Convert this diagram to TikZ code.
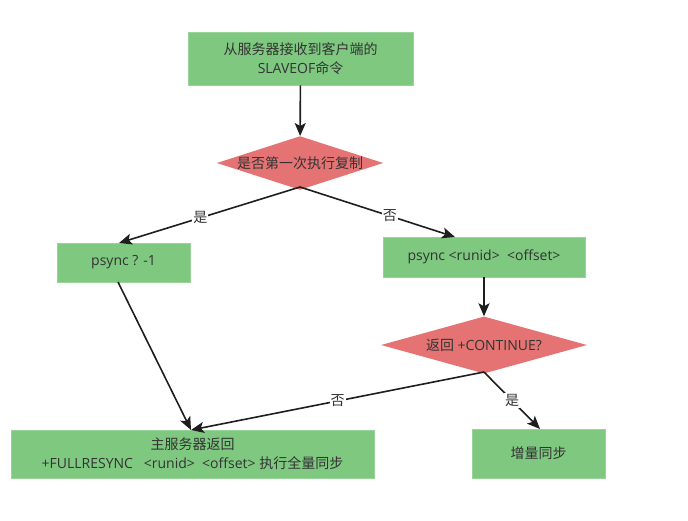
\documentclass[tikz,border=0pt]{standalone}
\usepackage{fontspec}
\setmainfont{Open Sans}
\newfontfamily\cjk{Noto Sans CJK SC}
\usetikzlibrary{shapes.geometric,arrows.meta}
\definecolor{gbox}{RGB}{126,200,128}
\definecolor{rdia}{RGB}{229,115,115}
\definecolor{txt}{RGB}{51,51,51}
\definecolor{ln}{RGB}{30,30,30}
\tikzset{
  gnode/.style={draw=gbox!80!white,fill=gbox,line width=0.6pt,inner sep=0pt,text=txt,font=\fontsize{14}{19}\selectfont,align=center},
  dnode/.style={diamond,fill=rdia,inner sep=0pt,text=txt,font=\fontsize{14}{19}\selectfont,aspect=3.1},
  arr/.style={draw=ln,line width=1.6pt,-{Stealth[length=13pt,width=11pt,inset=3pt]}},
  lbl/.style={fill=white,inner sep=1pt,text=txt,font=\fontsize{14}{19}\selectfont\cjk}
}
\begin{document}
\begin{tikzpicture}[x=1pt,y=-1pt]
\useasboundingbox (0,0) rectangle (688,520);
\node[gnode,minimum width=225pt,minimum height=53pt] (a) at (300.5,58.5) {{\cjk 从服务器接收到客户端的}\\SLAVEOF{\cjk 命令}};
\node[dnode,minimum width=158pt,minimum height=51pt] (d1) at (300,163) {\cjk 是否第一次执行复制};
\node[gnode,minimum width=133pt,minimum height=39pt] (p1) at (123.5,262.5) {psync ? -1};
\node[gnode,minimum width=202pt,minimum height=40pt] (p2) at (484,257) {psync <runid>\ \ <offset>};
\node[dnode,minimum width=206pt,minimum height=57pt] (d2) at (484,345) {{\cjk 返回} +CONTINUE?};
\node[gnode,minimum width=363pt,minimum height=48pt] (m) at (192.5,454) {{\cjk 主服务器返回}\\+FULLRESYNC\ \ \ <runid>\ \ <offset> {\cjk 执行全量同步}};
\node[gnode,minimum width=133pt,minimum height=49pt] (i) at (538.5,453.5) {\cjk 增量同步};
\coordinate (mt) at (191,430);
\coordinate (d1b) at (300,187);
\coordinate (d2b) at (484,372);
\draw[arr] (a) -- (d1);
\draw[arr] (d1b) -- node[lbl,pos=0.55] {是} (119,243) coordinate (p1t);
\draw[arr] (d1b) -- node[lbl,pos=0.58] {否} (455,237) coordinate (p2t);
\draw[arr] (118,282) coordinate (p1b) -- (mt);
\draw[arr] (p2) -- (d2);
\draw[arr] (d2b) -- node[lbl,pos=0.5] {否} (mt);
\draw[arr] (d2b) -- node[lbl,pos=0.5] {是} (540,429) coordinate (it);
\end{tikzpicture}
\end{document}
